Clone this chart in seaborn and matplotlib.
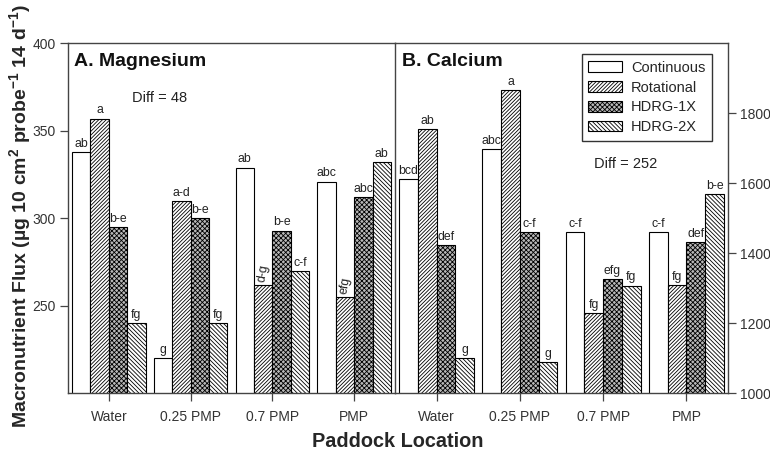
import matplotlib
matplotlib.use("Agg")
import matplotlib.pyplot as plt
from matplotlib.patches import Patch
import numpy as np
import pandas as pd
import seaborn as sns

# Paddock locations and grazing treatments
locations = ["Water", "0.25 PMP", "0.7 PMP", "PMP"]
treatments = ["Continuous", "Rotational", "HDRG-1X", "HDRG-2X"]

# Magnesium flux (µg 10 cm^2 probe^-1 14 d^-1), one list per treatment
mg_continuous = [338, 220, 329, 321]
mg_rotational = [357, 310, 262, 255]
mg_hdrg1x = [295, 300, 293, 312]
mg_hdrg2x = [240, 240, 270, 332]

# Calcium flux
ca_continuous = [1611, 1697, 1461, 1461]
ca_rotational = [1754, 1866, 1230, 1310]
ca_hdrg1x = [1424, 1461, 1326, 1433]
ca_hdrg2x = [1100, 1090, 1308, 1570]

# Mean-separation letters
mg_letters_continuous = ["ab", "g", "ab", "abc"]
mg_letters_rotational = ["a", "a-d", "d-g", "efg"]
mg_letters_hdrg1x = ["b-e", "b-e", "b-e", "abc"]
mg_letters_hdrg2x = ["fg", "fg", "c-f", "ab"]

ca_letters_continuous = ["bcd", "abc", "c-f", "c-f"]
ca_letters_rotational = ["ab", "a", "fg", "fg"]
ca_letters_hdrg1x = ["def", "c-f", "efg", "def"]
ca_letters_hdrg2x = ["g", "g", "fg", "b-e"]

mg_diff = 48
ca_diff = 252


def long_table(series):
    rows = []
    for trt, vals in zip(treatments, series):
        for loc, v in zip(locations, vals):
            rows.append({"Location": loc, "Treatment": trt, "Flux": v})
    return pd.DataFrame(rows)


mg_df = long_table([mg_continuous, mg_rotational, mg_hdrg1x, mg_hdrg2x])
ca_df = long_table([ca_continuous, ca_rotational, ca_hdrg1x, ca_hdrg2x])
mg_letters = [mg_letters_continuous, mg_letters_rotational, mg_letters_hdrg1x, mg_letters_hdrg2x]
ca_letters = [ca_letters_continuous, ca_letters_rotational, ca_letters_hdrg1x, ca_letters_hdrg2x]

sns.set_theme(style="ticks")
plt.rcParams["font.family"] = ["Liberation Sans", "DejaVu Sans"]
plt.rcParams["mathtext.fontset"] = "custom"
plt.rcParams["mathtext.rm"] = "Liberation Sans"
plt.rcParams["mathtext.bf"] = "Liberation Sans:bold"
plt.rcParams["hatch.linewidth"] = 0.6

styles = {
    "Continuous": dict(facecolor="white", hatch=None),
    "Rotational": dict(facecolor="white", hatch="/////////"),
    "HDRG-1X": dict(facecolor="#b8b8b8", hatch="xxxxxxx"),
    "HDRG-2X": dict(facecolor="white", hatch="\\\\\\\\\\\\\\\\"),
}
palette = {t: "white" for t in treatments}

fig = plt.figure(figsize=(7.7, 4.54), dpi=100)
ax_mg = fig.add_axes([0.0883, 0.1337, 0.4247, 0.7709])
ax_ca = fig.add_axes([0.5130, 0.1337, 0.4325, 0.7709])
ax_ca.patch.set_alpha(0)

tick_color = "#333333"
line_color = "#444444"


def draw_panel(ax, df, letters, ylim, yticks, rotated):
    sns.barplot(data=df, x="Location", y="Flux", hue="Treatment",
                hue_order=treatments, order=locations, palette=palette,
                width=0.9, gap=0, legend=False, ax=ax,
                edgecolor="black", linewidth=0.8)
    for trt, cont, labs in zip(treatments, ax.containers, letters):
        for bar in cont:
            bar.set_facecolor(styles[trt]["facecolor"])
            if styles[trt]["hatch"]:
                bar.set_hatch(styles[trt]["hatch"])
            bar.set_edgecolor("black")
        texts = ax.bar_label(cont, labels=labs, padding=1.5, fontsize=8.8, color="#222222")
        for lab, t in zip(labs, texts):
            if lab in rotated.get(trt, []):
                t.set_rotation(80)
    ax.set_xlim(-0.5, 3.5)
    ax.set_ylim(*ylim)
    ax.set_yticks(yticks)
    ax.set_xlabel("")
    ax.set_ylabel("")
    for s in ax.spines.values():
        s.set_color(line_color)
        s.set_linewidth(1.0)
        s.set_visible(True)
    ax.tick_params(axis="x", direction="out", length=6, width=0.9, color=line_color,
                   labelsize=10, labelcolor=tick_color, pad=6, bottom=True)


draw_panel(ax_mg, mg_df, mg_letters, (200, 400), [250, 300, 350, 400],
           {"Rotational": ["d-g", "efg"]})
draw_panel(ax_ca, ca_df, ca_letters, (1000, 2000), [1000, 1200, 1400, 1600, 1800], {})

ax_mg.tick_params(axis="y", direction="out", length=6, width=0.9, color=line_color,
                  labelsize=10, labelcolor=tick_color, left=True, right=False, pad=3)
ax_ca.spines["left"].set_visible(False)
ax_ca.yaxis.tick_right()
ax_ca.tick_params(axis="y", direction="out", length=6, width=0.9, color=line_color,
                  labelsize=10, labelcolor=tick_color, right=True, left=False, pad=2.5)

ax_mg.text(0.018, 0.947, "A. Magnesium", transform=ax_mg.transAxes, fontsize=14,
           fontweight="bold", ha="left", va="center", color="#111111")
ax_ca.text(0.02, 0.947, "B. Calcium", transform=ax_ca.transAxes, fontsize=14,
           fontweight="bold", ha="left", va="center", color="#111111")
ax_mg.text(0.28, 0.844, f"Diff = {mg_diff}", transform=ax_mg.transAxes, fontsize=10.5,
           ha="center", va="center", color="#222222")
ax_ca.text(0.692, 0.655, f"Diff = {ca_diff}", transform=ax_ca.transAxes, fontsize=10.5,
           ha="center", va="center", color="#222222")

handles = [Patch(facecolor=styles[t]["facecolor"], hatch=styles[t]["hatch"],
                 edgecolor="black", linewidth=0.8, label=t) for t in treatments]
leg = ax_ca.legend(handles=handles, loc="upper right", bbox_to_anchor=(0.952, 0.969),
                   borderaxespad=0, fontsize=10.5, frameon=True, fancybox=False,
                   framealpha=1, edgecolor="#333333", handlelength=2.35,
                   handleheight=0.75, labelspacing=0.4, borderpad=0.45,
                   handletextpad=0.6)
leg.get_frame().set_linewidth(1.0)

fig.text(0.027, 0.524,
         "Macronutrient Flux (µg 10 cm$^{\\mathbf{2}}$ probe$^{\\mathbf{-1}}$ 14 d$^{\\mathbf{-1}}$)",
         rotation=90, ha="center", va="center", fontsize=14, fontweight="bold")
fig.text(0.516, 0.027, "Paddock Location", ha="center", va="center",
         fontsize=14.3, fontweight="bold")

fig.savefig("out.png", dpi=100)
